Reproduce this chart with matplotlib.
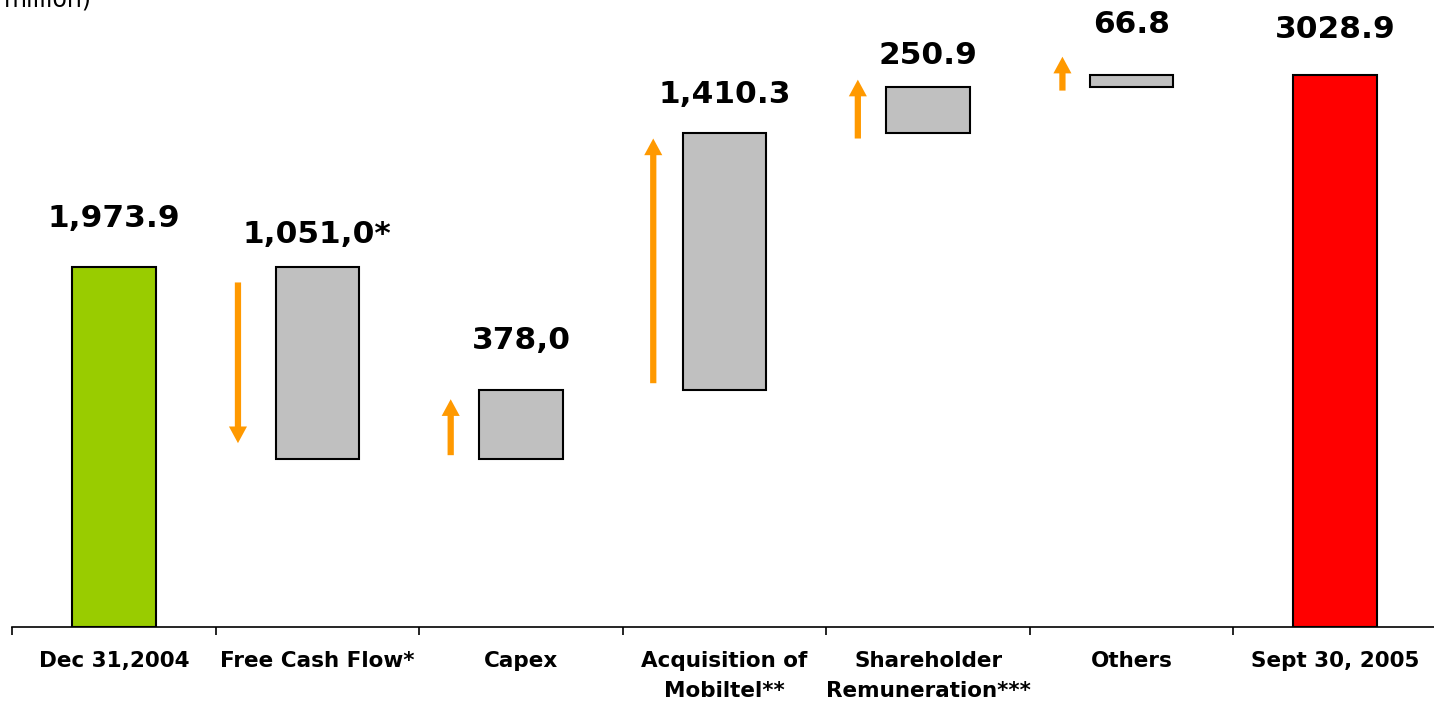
import matplotlib.pyplot as plt
import numpy as np

# Net debt walk (million)
categories = ['Dec 31,2004', 'Free Cash Flow*', 'Capex', 'Acquisition of\nMobiltel**',
              'Shareholder\nRemuneration***', 'Others', 'Sept 30, 2005']
changes = [-1051.0, 378.0, 1410.3, 250.9, 66.8]
start_value = 1973.9
end_value = 3028.9
value_labels = ['1,973.9', '1,051,0*', '378,0', '1,410.3', '250.9', '66.8', '3028.9']

# orange arrows next to the step bars (tail, tip)
arrow_tail = [1891, 943, 1338, 2681, 2944]
arrow_tip = [1009, 1250, 2681, 3004, 3130]

# layout
arrow_dx = [-0.39, -0.345, -0.35, -0.345, -0.34]
label_gap = [40, 24, 41, 30, 23, 42, 37]   # px between bar top and label baseline

GREEN = '#99CC00'
GREY = '#C0C0C0'
RED = '#FF0000'
ORANGE = '#FF9900'

W, H = 1434, 701
fig = plt.figure(figsize=(W / 100, H / 100), dpi=100)
ax = fig.add_axes([12 / W, 1 - 627 / H, 1425 / W, 3400 * 0.1822 / H])

x = np.arange(len(categories))
levels = np.concatenate([[start_value], start_value + np.cumsum(changes)])
bottoms = [0]
heights = [start_value]
for i, c in enumerate(changes):
    lo = min(levels[i], levels[i + 1])
    bottoms.append(lo)
    heights.append(abs(c))
bottoms.append(0)
heights.append(end_value)
colors = [GREEN] + [GREY] * len(changes) + [RED]

ax.bar(x, heights, bottom=bottoms, width=0.41, color=colors,
       edgecolor='black', linewidth=1.5, zorder=3)

for i in range(len(categories)):
    top = bottoms[i] + heights[i]
    ax.annotate(value_labels[i], (x[i], top), xytext=(0, label_gap[i] * 0.72),
                textcoords='offset points', ha='center', va='baseline',
                fontsize=22.5, fontweight='bold', family='DejaVu Sans')

for i in range(len(changes)):
    xi = x[i + 1] + arrow_dx[i]
    ax.annotate('', xy=(xi, arrow_tip[i]), xytext=(xi, arrow_tail[i]),
                arrowprops=dict(arrowstyle='simple,head_length=1.2,head_width=1.3,tail_width=0.45',
                                mutation_scale=10, color=ORANGE, shrinkA=0, shrinkB=0,
                                linewidth=0))

ax.set_xlim(-0.5, 6.5)
ax.set_ylim(0, 3400)
for s in ['top', 'right', 'left']:
    ax.spines[s].set_visible(False)
ax.spines['bottom'].set_linewidth(1.2)
ax.set_yticks([])
ax.set_xticks(x)
ax.set_xticklabels(categories, fontsize=15.5, fontweight='bold', linespacing=1.6)
ax.set_xticks(np.arange(-0.5, 7, 1), minor=True)
ax.tick_params(axis='x', which='major', length=0, pad=17.5)
ax.tick_params(axis='x', which='minor', length=6, width=1.2, direction='out')

# header text is cut by the top edge in the original slide
fig.text(4 / W, 1 - 7 / H, 'million)', fontsize=17, ha='left', va='baseline')

fig.savefig('out.png', dpi=100)
